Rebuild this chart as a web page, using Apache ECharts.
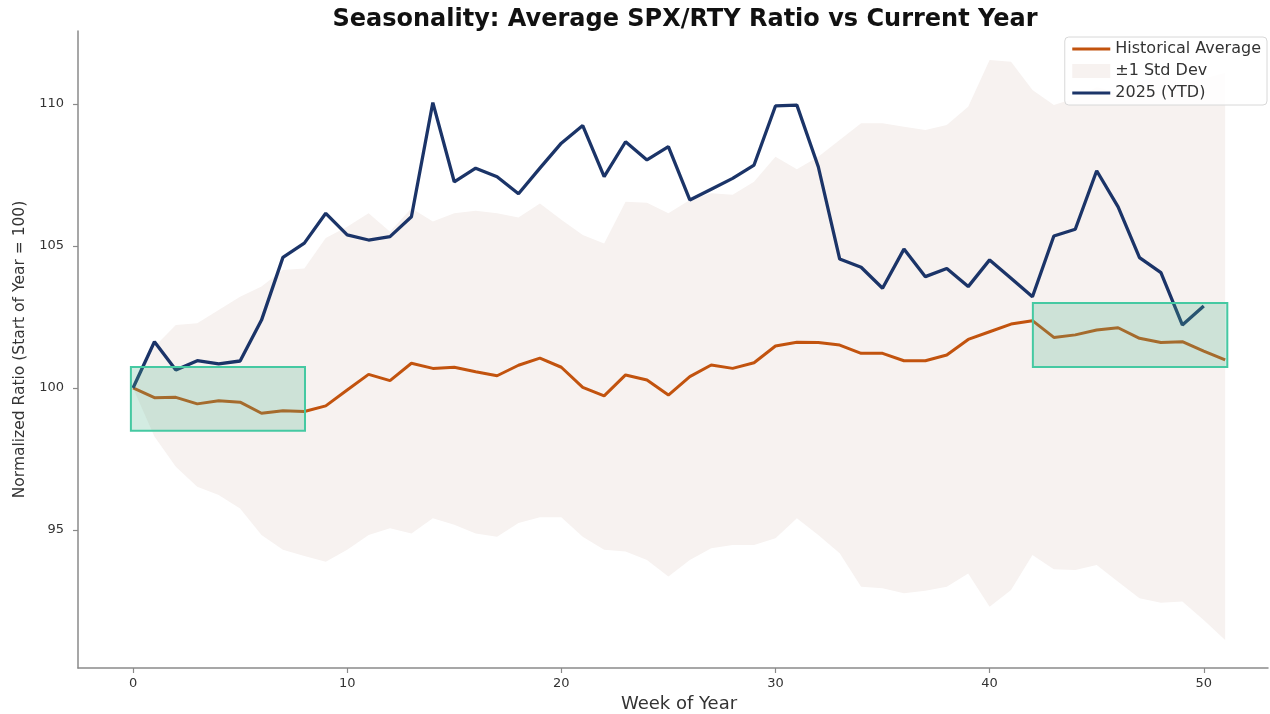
<!DOCTYPE html>
<html>
<head>
<meta charset="utf-8">
<title>Seasonality: Average SPX/RTY Ratio vs Current Year</title>
<script src="https://cdn.jsdelivr.net/npm/echarts@6/dist/echarts.min.js"></script>
<style>
  html, body { margin: 0; padding: 0; background: #fff; }
  #chart { width: 1270px; height: 714px; }
</style>
</head>
<body>
<div id="chart"></div>
<script>
// week numbers
const weeks = Array.from({ length: 52 }, (_, i) => i);

// historical average (weeks 0-51)
const histAvg = [
  100.0, 99.66, 99.67, 99.44, 99.55, 99.5, 99.11, 99.2, 99.17, 99.37,
  99.93, 100.48, 100.26, 100.87, 100.69, 100.73, 100.57, 100.43, 100.8, 101.05,
  100.73, 100.02, 99.72, 100.46, 100.28, 99.75, 100.4, 100.81, 100.69, 100.89,
  101.48, 101.61, 101.6, 101.51, 101.22, 101.22, 100.96, 100.96, 101.16, 101.71,
  101.98, 102.25, 102.37, 101.78, 101.87, 102.04, 102.12, 101.75, 101.6, 101.63,
  101.3, 100.99
];

// +/- 1 std dev band
const stdUpper = [
  100.0, 101.45, 102.22, 102.28, 102.75, 103.21, 103.57, 104.15, 104.21, 105.28,
  105.68, 106.15, 105.5, 106.33, 105.86, 106.15, 106.24, 106.15, 106.0, 106.5,
  105.92, 105.39, 105.09, 106.56, 106.52, 106.15, 106.62, 106.86, 106.8, 107.26,
  108.14, 107.7, 108.14, 108.73, 109.32, 109.32, 109.2, 109.08, 109.26, 109.9,
  111.55, 111.49, 110.49, 109.96, 110.2, 110.6, 110.4, 110.8, 111.0, 110.7,
  110.9, 111.1
];
const stdLower = [
  100.0, 98.29, 97.23, 96.52, 96.23, 95.76, 94.82, 94.3, 94.08, 93.88,
  94.3, 94.82, 95.06, 94.88, 95.41, 95.18, 94.88, 94.76, 95.25, 95.45,
  95.45, 94.76, 94.3, 94.24, 93.94, 93.36, 93.94, 94.36, 94.47, 94.47,
  94.71, 95.41, 94.82, 94.18, 93.0, 92.95, 92.77, 92.86, 93.0, 93.47,
  92.3, 92.89, 94.12, 93.62, 93.59, 93.77, 93.18, 92.6, 92.44, 92.48,
  91.83, 91.13
];

// 2025 year to date (weeks 0-50)
const ytd2025 = [
  100.0, 101.63, 100.63, 100.96, 100.85, 100.95, 102.39, 104.6, 105.1, 106.15,
  105.39, 105.21, 105.33, 106.03, 110.05, 107.26, 107.74, 107.44, 106.84, 107.74,
  108.62, 109.24, 107.44, 108.67, 108.03, 108.5, 106.62, 107.0, 107.38, 107.85,
  109.93, 109.96, 107.79, 104.54, 104.25, 103.51, 104.89, 103.92, 104.21, 103.57,
  104.51, 103.86, 103.21, 105.35, 105.59, 107.65, 106.38, 104.59, 104.06, 102.22,
  102.89
];

// highlighted boxes: [weekFrom, weekTo], [valueFrom, valueTo]
const boxWeeks = [[-0.1, 8.03], [42.02, 51.1]];
const boxValues = [[98.49, 100.74], [100.74, 102.99]];

const xTicks = [0, 10, 20, 30, 40, 50];
const yTicks = [95, 100, 105, 110];

const COLORS = {
  hist: "#c2530e",
  ytd: "#1b3468",
  band: "#f7f2f0",
  axis: "#8a8a8a",
  text: "#333333"
};

const pairs = (vals) => vals.map((v, i) => [weeks[i], v]);

const chart = echarts.init(document.getElementById("chart"), null, { renderer: "canvas" });

// band polygon: upper edge left-to-right, lower edge back
function renderBand(params, api) {
  if (params.dataIndex !== 0) return null;
  const upper = weeks.map((w, i) => api.coord([w, stdUpper[i]]));
  const lower = weeks.map((w, i) => api.coord([w, stdLower[i]])).reverse();
  return {
    type: "polygon",
    shape: { points: upper.concat(lower) },
    style: { fill: COLORS.band }
  };
}

const option = {
  backgroundColor: "#ffffff",
  animation: false,
  textStyle: { fontFamily: "DejaVu Sans, sans-serif" },
  title: {
    text: "Seasonality: Average SPX/RTY Ratio vs Current Year",
    left: 680,
    top: 3,
    textAlign: "center",
    textStyle: {
      fontFamily: "DejaVu Sans",
      fontSize: 24,
      fontWeight: "bold",
      color: "#111"
    }
  },
  legend: {
    orient: "vertical",
    right: 3,
    top: 37,
    itemWidth: 38,
    itemHeight: 14,
    itemGap: 6,
    padding: [4, 6, 4, 6],
    backgroundColor: "rgba(255,255,255,0.85)",
    borderColor: "#d8d8d8",
    borderWidth: 1,
    borderRadius: 4,
    textStyle: { fontSize: 16, color: COLORS.text, fontFamily: "DejaVu Sans" },
    data: [
      { name: "Historical Average", itemStyle: { opacity: 0 }, lineStyle: { width: 3 } },
      { name: "±1 Std Dev", icon: "rect" },
      { name: "2025 (YTD)", itemStyle: { opacity: 0 }, lineStyle: { width: 3 } }
    ]
  },
  grid: {
    left: 78,
    right: 2,
    top: 31,
    bottom: 46,
    outerBoundsMode: "none",
    containLabel: false
  },
  xAxis: {
    type: "value",
    min: -2.57,
    max: 53.0,
    name: "Week of Year",
    nameLocation: "middle",
    nameGap: 27,
    nameTextStyle: { fontSize: 18, color: COLORS.text, padding: [0, 0, 0, 12] },
    splitLine: { show: false },
    axisLine: { onZero: false, lineStyle: { color: COLORS.axis, width: 1.5 } },
    axisTick: { length: 5, lineStyle: { color: COLORS.axis, width: 1.2 }, customValues: xTicks },
    axisLabel: { fontSize: 13, color: COLORS.text, margin: 9, customValues: xTicks }
  },
  yAxis: {
    type: "value",
    min: 90.14,
    max: 112.57,
    name: "Normalized Ratio (Start of Year = 100)",
    nameLocation: "middle",
    nameGap: 50,
    nameTextStyle: { fontSize: 15.5, color: COLORS.text },
    splitLine: { show: false },
    axisLine: { show: true, onZero: false, lineStyle: { color: COLORS.axis, width: 1.5 } },
    axisTick: { show: true, length: 5, lineStyle: { color: COLORS.axis, width: 1.2 }, customValues: yTicks },
    axisLabel: { fontSize: 13, color: COLORS.text, margin: 14, customValues: yTicks }
  },
  series: [
    {
      name: "±1 Std Dev",
      type: "custom",
      renderItem: renderBand,
      itemStyle: { color: COLORS.band },
      encode: { x: 0, y: [1, 2] },
      data: weeks.map((w, i) => [w, stdLower[i], stdUpper[i]]),
      silent: true,
      z: 1
    },
    {
      name: "Historical Average",
      type: "line",
      symbol: "none",
      itemStyle: { color: COLORS.hist },
      lineStyle: { color: COLORS.hist, width: 3 },
      data: pairs(histAvg),
      z: 3
    },
    {
      name: "2025 (YTD)",
      type: "line",
      symbol: "none",
      itemStyle: { color: COLORS.ytd },
      lineStyle: { color: COLORS.ytd, width: 3.3 },
      data: pairs(ytd2025),
      z: 4
    },
    {
      name: "boxes",
      type: "line",
      data: [],
      z: 6,
      markArea: {
        silent: true,
        z: 10,
        itemStyle: {
          color: "rgba(80,180,140,0.25)",
          borderColor: "#45c9a2",
          borderWidth: 2
        },
        data: boxWeeks.map((wk, i) => [
          { xAxis: wk[0], yAxis: boxValues[i][0] },
          { xAxis: wk[1], yAxis: boxValues[i][1] }
        ])
      }
    }
  ]
};

chart.setOption(option);
</script>
</body>
</html>
